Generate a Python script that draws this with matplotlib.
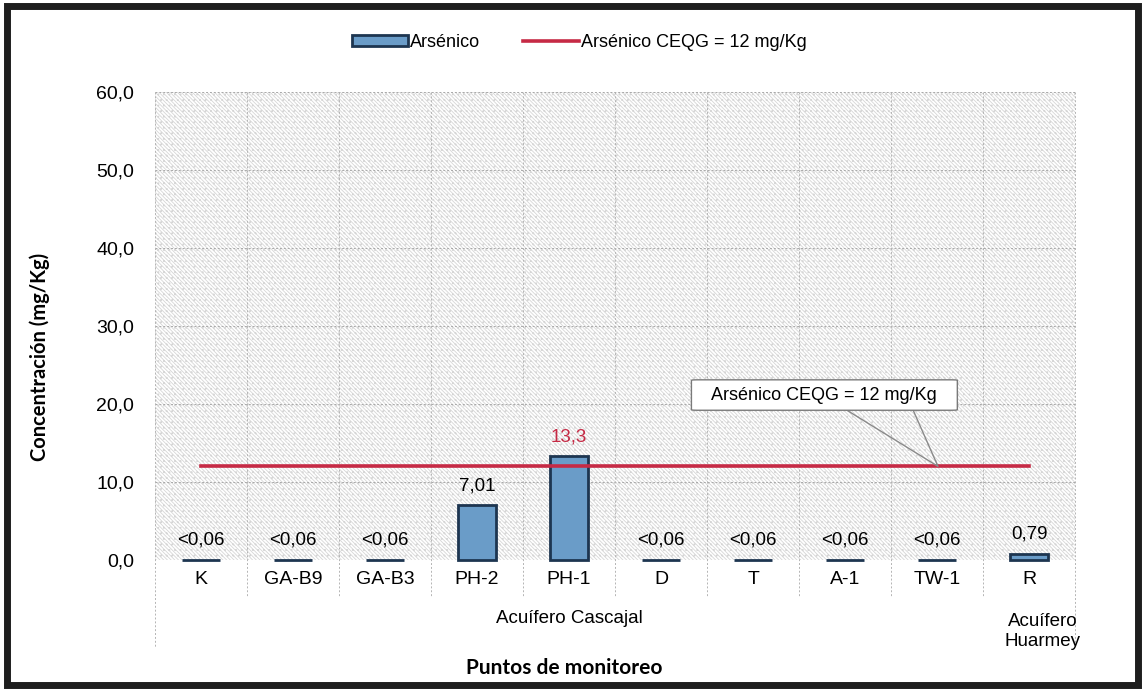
import numpy as np
import matplotlib.pyplot as plt
from matplotlib.patches import Rectangle, FancyBboxPatch
from matplotlib.lines import Line2D
import matplotlib.transforms as mtransforms

plt.rcParams['font.family'] = ['Liberation Sans', 'DejaVu Sans']
plt.rcParams['hatch.linewidth'] = 0.6

# data
puntos = ["K", "GA-B9", "GA-B3", "PH-2", "PH-1", "D", "T", "A-1", "TW-1", "R"]
arsenico = [0.06, 0.06, 0.06, 7.01, 13.3, 0.06, 0.06, 0.06, 0.06, 0.79]
etiquetas = ["<0,06", "<0,06", "<0,06", "7,01", "13,3", "<0,06", "<0,06", "<0,06", "<0,06", "0,79"]
ceqg = 12
grupos = ["Acuífero Cascajal", "Acuífero\nHuarmey"]
grupo_limites = [(0, 8), (9, 9)]
yticks = [0, 10, 20, 30, 40, 50, 60]

bar_col = "#6a9cc8"
edge_col = "#1d3550"
red = "#c62a45"

fig = plt.figure(figsize=(11.43, 6.89), dpi=100)
ax = fig.add_axes([0.1356, 0.1872, 0.805, 0.6793])

x = np.arange(len(puntos))

# patterned background
ax.add_patch(Rectangle((0, 0), 1, 1, transform=ax.transAxes, facecolor="white",
                       edgecolor="#d6d6d6", hatch="\\" * 9 + "...", linewidth=0, zorder=0))

bars = ax.bar(x, arsenico, width=0.42, color=bar_col, edgecolor=edge_col, linewidth=2.0, zorder=3)
for b in bars:
    b.set_clip_on(False)
ax.plot([x[0], x[-1]], [ceqg, ceqg], color=red, linewidth=2.6, zorder=4)

for xi, v, lab in zip(x, arsenico, etiquetas):
    col = red if v > ceqg else "black"
    ax.text(xi, v + 1.4, lab, ha="center", va="bottom", fontsize=13.5, color=col, zorder=5)

ax.set_xlim(-0.5, len(puntos) - 0.5)
ax.set_ylim(0, 60)
ax.set_yticks(yticks)
ax.set_yticklabels([f"{t:.1f}".replace(".", ",") for t in yticks], fontsize=14)
ax.tick_params(axis="y", length=0, pad=15)
ax.tick_params(axis="x", length=0, pad=8)
ax.set_xticks(x)
ax.set_xticklabels(puntos, fontsize=14)
for s in ax.spines.values():
    s.set_visible(False)

# grid
for t in yticks:
    ax.axhline(t, color="#a8a8a8", linewidth=0.7, linestyle=(0, (2, 2)), zorder=1)
trans = mtransforms.blended_transform_factory(ax.transData, ax.transAxes)
for b in np.arange(-0.5, len(puntos), 1.0):
    low = -0.08
    if b in (-0.5, len(puntos) - 0.5):
        low = -0.185
    ax.plot([b, b], [1, low], transform=trans, color="#b4b4b4", linewidth=0.7,
            linestyle=(0, (2, 2)), clip_on=False, zorder=1)

# group labels
ax.text((grupo_limites[0][0] + grupo_limites[0][1]) / 2, -0.125, grupos[0], transform=trans,
        ha="center", va="center", fontsize=13.5)
ax.text(grupo_limites[1][0] + 0.15, -0.153, grupos[1], transform=trans,
        ha="center", va="center", fontsize=13.5, linespacing=1.25)

ax.set_ylabel("Concentración (mg/Kg)", fontsize=14.5, fontweight="bold", family="Lato")
ax.yaxis.set_label_coords(-0.114, 0.434)
fig.text(0.494, 0.022, "Puntos de monitoreo", ha="center", fontsize=15, fontweight="bold",
         family="Lato")

# callout
bx0, bx1, by0, by1 = 5.33, 8.22, 19.2, 23.1
ax.add_patch(FancyBboxPatch((bx0, by0), bx1 - bx0, by1 - by0,
                            boxstyle="round,pad=0,rounding_size=0.06",
                            facecolor="white", edgecolor="#7a7a7a", linewidth=1.0, zorder=6))
ax.plot([7.02, 8.01, 7.74], [by0, ceqg, by0], color="#8a8a8a", linewidth=1.0, zorder=5)
ax.text((bx0 + bx1) / 2, (by0 + by1) / 2, "Arsénico CEQG = 12 mg/Kg", ha="center",
        va="center", fontsize=13, zorder=8)

# legend
handles = [Rectangle((0, 0), 1, 1, facecolor=bar_col, edgecolor=edge_col, linewidth=2.0),
           Line2D([0], [0], color=red, linewidth=2.6)]
fig.legend(handles, ["Arsénico", "Arsénico CEQG = 12 mg/Kg"], loc="center",
           bbox_to_anchor=(0.507, 0.939), ncol=2, frameon=False, fontsize=13,
           handlelength=3.1, handleheight=0.55, handletextpad=0.1, columnspacing=2.4)

# outer frame
fig.patches.append(Rectangle((0.006, 0.006), 0.99, 0.985, transform=fig.transFigure,
                             fill=False, edgecolor="#1e1e1e", linewidth=5))

fig.savefig("out.png", dpi=100)
